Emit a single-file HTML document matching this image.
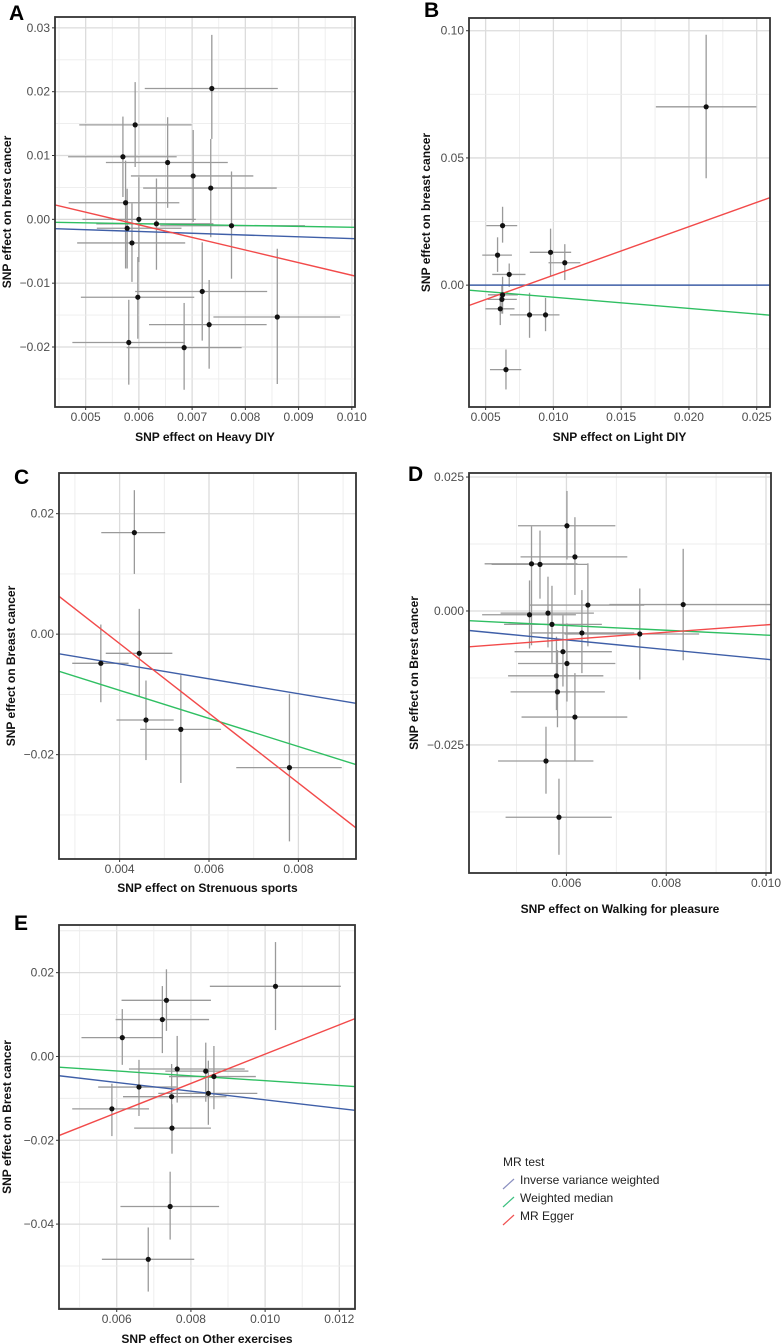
<!DOCTYPE html>
<html><head><meta charset="utf-8"><style>
html,body{margin:0;padding:0;background:#fff;}
svg{display:block;font-family:"Liberation Sans",sans-serif;}
</style></head><body>
<svg id="fig" width="782" height="1344" viewBox="0 0 782 1344" xmlns="http://www.w3.org/2000/svg">
<g id="legend">
<text x="503" y="1166" font-size="12" fill="#222">MR test</text>
<g><line x1="503" y1="1189" x2="514" y2="1179" stroke="#8a8fc0" stroke-width="1.2"/><text x="520" y="1184" font-size="12" fill="#222">Inverse variance weighted</text></g>
<g><line x1="503" y1="1207" x2="514" y2="1197" stroke="#3cc080" stroke-width="1.2"/><text x="520" y="1202" font-size="12" fill="#222">Weighted median</text></g>
<g><line x1="503" y1="1225" x2="514" y2="1215" stroke="#f05050" stroke-width="1.2"/><text x="520" y="1220" font-size="12" fill="#222">MR Egger</text></g>
</g>
</svg>
<script>
// Panel A
const aX=[0.00737,0.00593,0.00570,0.00654,0.00702,0.00735,0.00575,0.00600,0.00633,0.00774,0.00578,0.00587,0.00598,0.00719,0.00732,0.00860,0.00581,0.00685];
const aY=[0.0205,0.0148,0.0098,0.0089,0.0068,0.0049,0.0026,0.0000,-0.0007,-0.0010,-0.0014,-0.0037,-0.0122,-0.0113,-0.0165,-0.0153,-0.0193,-0.0201];
const aXlo=[0.00611,0.00488,0.00467,0.00538,0.00585,0.00608,0.00468,0.00494,0.00520,0.00640,0.00521,0.00484,0.00491,0.00593,0.00619,0.00740,0.00475,0.00577];
const aXhi=[0.00861,0.00699,0.00671,0.00767,0.00815,0.00859,0.00676,0.00707,0.00740,0.00912,0.00680,0.00687,0.00704,0.00841,0.00840,0.00978,0.00686,0.00793];
const aYlo=[0.0126,0.0082,0.0035,0.0018,-0.0004,-0.0028,-0.0077,-0.0067,-0.0079,-0.0093,-0.0077,-0.0098,-0.0187,-0.0190,-0.0234,-0.0258,-0.0259,-0.0267];
const aYhi=[0.0289,0.0215,0.0161,0.0160,0.0140,0.0126,0.0092,0.0066,0.0064,0.0075,0.0048,0.0025,-0.0059,-0.0036,-0.0095,-0.0046,-0.0126,-0.0131];
const aSlopes=[-0.279,-0.138,-1.975];
const aIntercepts=[-0.00023,0.00014,0.01099];
const aXTicks=[0.005,0.006,0.007,0.008,0.009,0.010];
const aXTickLabels=["0.005","0.006","0.007","0.008","0.009","0.010"];
const aYTicks=[-0.02,-0.01,0,0.01,0.02,0.03];
const aYTickLabels=["\u22120.02","\u22120.01","0.00","0.01","0.02","0.03"];
// Panel B
const bX=[0.02127,0.00625,0.00588,0.00674,0.00979,0.01084,0.00625,0.00620,0.00608,0.00824,0.00942,0.00650];
const bY=[0.0701,0.0234,0.0118,0.0042,0.0129,0.0088,-0.0038,-0.0056,-0.0093,-0.0117,-0.0117,-0.0332];
const bXlo=[0.01756,0.00505,0.00475,0.00549,0.00826,0.00964,0.00517,0.00515,0.00498,0.00679,0.00836,0.00532];
const bXhi=[0.02498,0.00733,0.00694,0.00794,0.01131,0.01199,0.00738,0.00730,0.00713,0.00971,0.01045,0.00763];
const bYlo=[0.0420,0.0167,0.0052,-0.0007,0.0035,0.0020,-0.0112,-0.0112,-0.0157,-0.0207,-0.0181,-0.0410];
const bYhi=[0.0984,0.0308,0.0188,0.0085,0.0222,0.0161,0.0033,0.0000,-0.0033,-0.0030,-0.0050,-0.0253];
const bSlopes=[0,-0.443,1.909];
const bIntercepts=[0,-0.0003,-0.0152];
const bXTicks=[0.005,0.010,0.015,0.020,0.025];
const bXTickLabels=["0.005","0.010","0.015","0.020","0.025"];
const bYTicks=[0,0.05,0.10];
const bYTickLabels=["0.00","0.05","0.10"];
// Panel C
const cX=[0.00433,0.00444,0.00358,0.00459,0.00537,0.00780];
const cY=[0.01685,-0.00318,-0.00484,-0.01425,-0.0158,-0.02215];
const cXlo=[0.00359,0.00369,0.00294,0.00393,0.00446,0.00661];
const cXhi=[0.00502,0.00518,0.00420,0.00521,0.00627,0.00897];
const cYlo=[0.0100,-0.0103,-0.0113,-0.0209,-0.0247,-0.0344];
const cYhi=[0.0239,0.0042,0.0016,-0.0077,-0.0068,-0.0099];
const cSlopes=[-1.236,-2.331,-5.786];
const cIntercepts=[0,0,0.02158];
const cXTicks=[0.004,0.006,0.008];
const cXTickLabels=["0.004","0.006","0.008"];
const cYTicks=[-0.02,0,0.02];
const cYTickLabels=["\u22120.02","0.00","0.02"];
// Panel D
const dX=[0.00601,0.00617,0.00530,0.00547,0.00643,0.00834,0.00526,0.00563,0.00571,0.00631,0.00747,0.00593,0.00601,0.00580,0.00582,0.00617,0.00559,0.00585];
const dY=[0.0159,0.0101,0.0088,0.0087,0.0011,0.0012,-0.0007,-0.0004,-0.0025,-0.0041,-0.0043,-0.0076,-0.0098,-0.0121,-0.0151,-0.0198,-0.0280,-0.0385];
const dXlo=[0.00503,0.00508,0.00436,0.00450,0.00527,0.00686,0.00431,0.00468,0.00475,0.00528,0.00596,0.00496,0.00503,0.00483,0.00488,0.00510,0.00463,0.00478];
const dXhi=[0.00698,0.00722,0.00622,0.00642,0.00756,0.01082,0.00619,0.00655,0.00671,0.00736,0.00866,0.00691,0.00698,0.00674,0.00677,0.00722,0.00654,0.00691];
const dYlo=[0.0096,0.0030,-0.0064,0.0023,-0.0066,-0.0092,-0.0070,-0.0068,-0.0097,-0.0116,-0.0128,-0.0141,-0.0169,-0.0185,-0.0217,-0.0279,-0.0341,-0.0455];
const dYhi=[0.0224,0.0175,0.0158,0.0150,0.0089,0.0116,0.0057,0.0064,0.0047,0.0039,0.0042,-0.0008,-0.0023,-0.0048,-0.0073,-0.0116,-0.0216,-0.0313];
const dSlopes=[-0.90,-0.45,0.687];
const dIntercepts=[0,0,-0.00946];
const dXTicks=[0.006,0.008,0.010];
const dXTickLabels=["0.006","0.008","0.010"];
const dYTicks=[-0.025,0,0.025];
const dYTickLabels=["\u22120.025","0.000","0.025"];
// Panel E
const eX=[0.01028,0.00734,0.00723,0.00615,0.00763,0.00840,0.00862,0.00660,0.00748,0.00847,0.00587,0.00749,0.00744,0.00685];
const eY=[0.01674,0.0134,0.0088,0.0045,-0.0030,-0.0035,-0.0048,-0.0073,-0.0096,-0.0088,-0.0125,-0.0171,-0.0358,-0.0484];
const eXlo=[0.00851,0.00613,0.00597,0.00505,0.00633,0.00731,0.00741,0.00550,0.00617,0.00712,0.00480,0.00647,0.00610,0.00560];
const eXhi=[0.01204,0.00854,0.00849,0.00722,0.00945,0.00955,0.00975,0.00761,0.00896,0.00979,0.00687,0.00854,0.00876,0.00809];
const eYlo=[0.0063,0.0061,0.0008,-0.0020,-0.0110,-0.0108,-0.0126,-0.0142,-0.0170,-0.0163,-0.0190,-0.0232,-0.0437,-0.0561];
const eYhi=[0.0273,0.0208,0.0168,0.0113,0.0049,0.0033,0.0025,-0.0008,-0.0018,-0.0010,-0.0065,-0.0114,-0.0275,-0.0408];
const eSlopes=[-1.035,-0.578,3.495];
const eIntercepts=[0,0,-0.0344];
const eXTicks=[0.006,0.008,0.010,0.012];
const eXTickLabels=["0.006","0.008","0.010","0.012"];
const eYTicks=[-0.04,-0.02,0,0.02];
const eYTickLabels=["\u22120.04","\u22120.02","0.00","0.02"];

const NS="http://www.w3.org/2000/svg";
const svg=document.getElementById('fig');
const lineColors=["#3f5fa8","#2fbf62","#f24a4a"];
function mk(tag,attrs,parent){const e=document.createElementNS(NS,tag);for(const k in attrs)e.setAttribute(k,attrs[k]);parent.appendChild(e);return e;}

function panel(p){
  const g=mk('g',{},svg);
  
  
  const sx=v=>p.L+(v-p.x0)/(p.x1-p.x0)*(p.R-p.L);
  const sy=v=>p.B-(v-p.y0)/(p.y1-p.y0)*(p.B-p.T);
  const cid='clip'+p.id;
  const cp=mk('clipPath',{id:cid},g);mk('rect',{x:p.L,y:p.T,width:p.R-p.L,height:p.B-p.T},cp);
  const inner=mk('g',{'clip-path':'url(#'+cid+')'},g);
  // grid
  const grid=mk('g',{},inner);
  
  
  const xs=p.xTicks, ys=p.yTicks;
  const dxs=xs[1]-xs[0], dys=ys[1]-ys[0];
  for(let v=xs[0]-3*dxs/2; v<=p.x1+dxs; v+=dxs/2){
    const major=Math.abs(((v-xs[0])/dxs)-Math.round((v-xs[0])/dxs))<1e-6;
    mk('line',{x1:sx(v),x2:sx(v),y1:p.T,y2:p.B,stroke:major?'#dcdcdc':'#ececec','stroke-width':major?1.3:0.9},grid);
  }
  for(let v=ys[0]-3*dys/2; v<=p.y1+dys; v+=dys/2){
    const major=Math.abs(((v-ys[0])/dys)-Math.round((v-ys[0])/dys))<1e-6;
    mk('line',{x1:p.L,x2:p.R,y1:sy(v),y2:sy(v),stroke:major?'#dcdcdc':'#ececec','stroke-width':major?1.3:0.9},grid);
  }
  // error bars
  for(let i=0;i<p.X.length;i++){
    const eb=mk('g',{stroke:'#9a9a9a','stroke-width':1.3},inner);
    
    
    mk('line',{x1:sx(p.Xlo[i]),x2:sx(p.Xhi[i]),y1:sy(p.Y[i]),y2:sy(p.Y[i])},eb);
    mk('line',{x1:sx(p.X[i]),x2:sx(p.X[i]),y1:sy(p.Ylo[i]),y2:sy(p.Yhi[i])},eb);
  }
  // regression lines
  const names=['ivw-line','weighted-median-line','mr-egger-line'];
  for(let k=0;k<3;k++){
    const l=mk('line',{x1:sx(p.x0),y1:sy(p.sl[k]*p.x0+p.ic[k]),x2:sx(p.x1),y2:sy(p.sl[k]*p.x1+p.ic[k]),stroke:lineColors[k],'stroke-width':1.4},inner);
    
    
  }
  // points
  for(let i=0;i<p.X.length;i++){
    const c=mk('circle',{cx:sx(p.X[i]),cy:sy(p.Y[i]),r:2.6,fill:'#111'},inner);
    
    
  }
  // border
  const br=mk('rect',{x:p.L,y:p.T,width:p.R-p.L,height:p.B-p.T,fill:'none',stroke:'#333','stroke-width':1.8},g);
  
  
  // ticks
  for(let i=0;i<xs.length;i++){
    mk('line',{x1:sx(xs[i]),x2:sx(xs[i]),y1:p.B,y2:p.B+3,stroke:'#333'},g);
    const t=mk('text',{x:sx(xs[i]),y:p.B+14,'font-size':12,fill:'#4d4d4d','text-anchor':'middle'},g);
    t.textContent=p.xLab[i];
    
    
  }
  for(let i=0;i<ys.length;i++){
    mk('line',{x1:p.L-3,x2:p.L,y1:sy(ys[i]),y2:sy(ys[i]),stroke:'#333'},g);
    const t=mk('text',{x:p.L-5,y:sy(ys[i])+4,'font-size':12,fill:'#4d4d4d','text-anchor':'end'},g);
    t.textContent=p.yLab[i];
    
    
  }
  const xt=mk('text',{x:(p.L+p.R)/2,y:p.xtY,'font-size':12,'font-weight':'bold',fill:'#111','text-anchor':'middle'},g);
  xt.textContent=p.xTitle;
  
  
  const cy=(p.T+p.B)/2;
  const yt=mk('text',{x:p.ytX,y:cy,'font-size':12,'font-weight':'bold',fill:'#111','text-anchor':'middle',transform:'rotate(-90 '+p.ytX+' '+cy+')'},g);
  yt.textContent=p.yTitle;
  
  
  const lt=mk('text',{x:p.lx,y:p.ly,'font-size':21,'font-weight':'bold',fill:'#000'},g);
  lt.textContent=p.id;
  
  
}

panel({id:'A',L:55,R:355,T:17,B:407,x0:0.004424,x1:0.01006,y0:-0.0294,y1:0.0317,X:aX,Y:aY,Xlo:aXlo,Xhi:aXhi,Ylo:aYlo,Yhi:aYhi,sl:aSlopes,ic:aIntercepts,xTicks:aXTicks,xLab:aXTickLabels,yTicks:aYTicks,yLab:aYTickLabels,xTitle:'SNP effect on Heavy DIY',yTitle:'SNP effect on brest cancer',xtY:441,ytX:11,lx:9,ly:20});
panel({id:'B',L:469,R:770,T:18,B:407,x0:0.003773,x1:0.02598,y0:-0.0479,y1:0.105,X:bX,Y:bY,Xlo:bXlo,Xhi:bXhi,Ylo:bYlo,Yhi:bYhi,sl:bSlopes,ic:bIntercepts,xTicks:bXTicks,xLab:bXTickLabels,yTicks:bYTicks,yLab:bYTickLabels,xTitle:'SNP effect on Light DIY',yTitle:'SNP effect on breast cancer',xtY:441,ytX:430,lx:424,ly:17});
panel({id:'C',L:59,R:356,T:473,B:859,x0:0.002644,x1:0.009289,y0:-0.03732,y1:0.02675,X:cX,Y:cY,Xlo:cXlo,Xhi:cXhi,Ylo:cYlo,Yhi:cYhi,sl:cSlopes,ic:cIntercepts,xTicks:cXTicks,xLab:cXTickLabels,yTicks:cYTicks,yLab:cYTickLabels,xTitle:'SNP effect on Strenuous sports',yTitle:'SNP effect on Breast cancer',xtY:892,ytX:15,lx:14,ly:484});
panel({id:'D',L:469,R:771,T:473,B:873,x0:0.004047,x1:0.0101,y0:-0.0489,y1:0.02575,X:dX,Y:dY,Xlo:dXlo,Xhi:dXhi,Ylo:dYlo,Yhi:dYhi,sl:dSlopes,ic:dIntercepts,xTicks:dXTicks,xLab:dXTickLabels,yTicks:dYTicks,yLab:dYTickLabels,xTitle:'SNP effect on Walking for pleasure',yTitle:'SNP effect on Brest cancer',xtY:913,ytX:418,lx:408,ly:481});
panel({id:'E',L:59,R:355,T:925,B:1309,x0:0.004444,x1:0.012423,y0:-0.06026,y1:0.03137,X:eX,Y:eY,Xlo:eXlo,Xhi:eXhi,Ylo:eYlo,Yhi:eYhi,sl:eSlopes,ic:eIntercepts,xTicks:eXTicks,xLab:eXTickLabels,yTicks:eYTicks,yLab:eYTickLabels,xTitle:'SNP effect on Other exercises',yTitle:'SNP effect on Brest cancer',xtY:1343,ytX:11,lx:14,ly:930});
</script>
</body></html>
